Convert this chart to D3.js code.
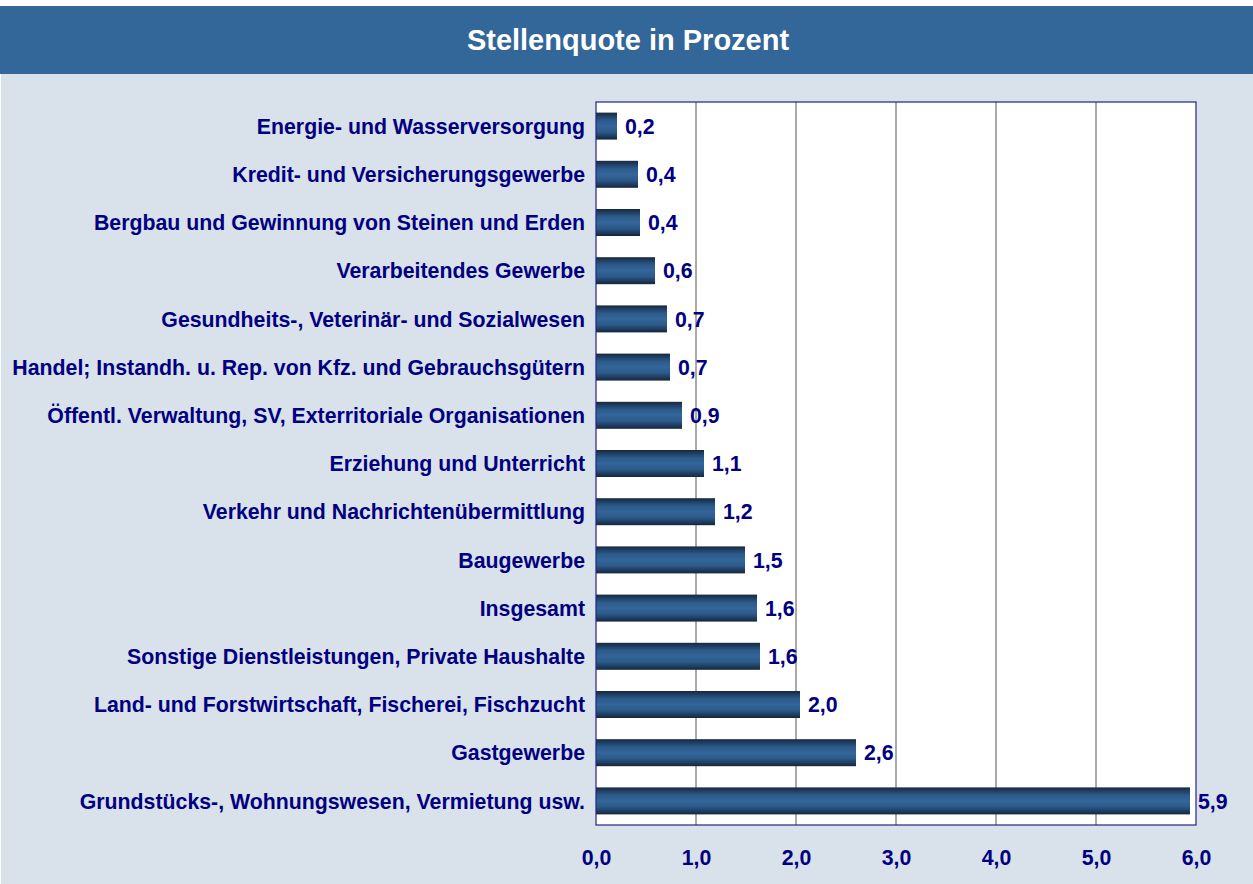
<!DOCTYPE html>
<html>
<head>
<meta charset="utf-8">
<script src="https://cdn.jsdelivr.net/npm/d3@7"></script>
<style>
  body { margin: 0; background: #fff; }
  svg { display: block; }
  text { font-family: "Liberation Sans", Arial, sans-serif; font-weight: bold; }
</style>
</head>
<body>
<div id="chart"></div>
<script>
const categories = [
  'Energie- und Wasserversorgung',
  'Kredit- und Versicherungsgewerbe',
  'Bergbau und Gewinnung von Steinen und Erden',
  'Verarbeitendes Gewerbe',
  'Gesundheits-, Veterinär- und Sozialwesen',
  'Handel; Instandh. u. Rep. von Kfz. und Gebrauchsgütern',
  'Öffentl. Verwaltung, SV, Exterritoriale Organisationen',
  'Erziehung und Unterricht',
  'Verkehr und Nachrichtenübermittlung',
  'Baugewerbe',
  'Insgesamt',
  'Sonstige Dienstleistungen, Private Haushalte',
  'Land- und Forstwirtschaft, Fischerei, Fischzucht',
  'Gastgewerbe',
  'Grundstücks-, Wohnungswesen, Vermietung usw.'
];
const values = [0.21, 0.42, 0.44, 0.59, 0.71, 0.74, 0.86, 1.08, 1.19, 1.49, 1.61, 1.64, 2.04, 2.6, 5.94];
const ticks = [0, 1, 2, 3, 4, 5, 6];
const title = 'Stellenquote in Prozent';

const W = 1253, H = 884;
const margin = { top: 102, right: 57, bottom: 59, left: 596 };
const fmt = v => d3.format('.1f')(v).replace('.', ',');
const fs = '21.3px';

const svg = d3.select('#chart').append('svg')
  .attr('width', W).attr('height', H);

// background + header
svg.append('rect').attr('x', 1).attr('y', 74).attr('width', W - 1).attr('height', H - 74).attr('fill', '#d9e1ea');
svg.append('rect').attr('x', 0).attr('y', 6).attr('width', W).attr('height', 68).attr('fill', '#336699');
svg.append('text')
  .attr('x', 628).attr('y', 50)
  .attr('text-anchor', 'middle')
  .attr('fill', '#fff')
  .style('font-size', '29px')
  .text(title);

const grad = svg.append('defs').append('linearGradient')
  .attr('id', 'barGrad').attr('x1', 0).attr('y1', 0).attr('x2', 0).attr('y2', 1);
grad.append('stop').attr('offset', '0%').attr('stop-color', '#162840');
grad.append('stop').attr('offset', '28%').attr('stop-color', '#2c5989');
grad.append('stop').attr('offset', '50%').attr('stop-color', '#33669b');
grad.append('stop').attr('offset', '72%').attr('stop-color', '#2c5989');
grad.append('stop').attr('offset', '100%').attr('stop-color', '#15263d');

const x = d3.scaleLinear().domain([0, 6]).range([margin.left, W - margin.right]);
const y = d3.scaleBand().domain(categories).range([margin.top, H - margin.bottom]).paddingInner(0.44).paddingOuter(0.22);

// plot area
svg.append('rect')
  .attr('x', x(0)).attr('y', margin.top)
  .attr('width', x(6) - x(0)).attr('height', H - margin.bottom - margin.top)
  .attr('fill', '#fff');

svg.append('g').selectAll('line')
  .data(ticks.slice(1, -1))
  .join('line')
  .attr('x1', d => x(d)).attr('x2', d => x(d))
  .attr('y1', margin.top).attr('y2', H - margin.bottom)
  .attr('stroke', '#555').attr('stroke-width', 1);

// bars
svg.append('g').selectAll('rect')
  .data(values)
  .join('rect')
  .attr('x', x(0))
  .attr('y', (d, i) => y(categories[i]))
  .attr('width', d => x(d) - x(0))
  .attr('height', y.bandwidth())
  .attr('fill', 'url(#barGrad)');

svg.append('rect')
  .attr('x', x(0)).attr('y', margin.top)
  .attr('width', x(6) - x(0)).attr('height', H - margin.bottom - margin.top)
  .attr('fill', 'none').attr('stroke', '#22228a').attr('stroke-width', 1.2);

// value labels
svg.append('g').selectAll('text')
  .data(values)
  .join('text')
  .attr('x', d => x(d) + 8)
  .attr('y', (d, i) => y(categories[i]) + y.bandwidth() / 2)
  .attr('dy', '0.36em')
  .attr('fill', '#000080')
  .style('font-size', fs)
  .text(fmt);

// category labels
svg.append('g').selectAll('text')
  .data(categories)
  .join('text')
  .attr('x', x(0) - 11)
  .attr('y', d => y(d) + y.bandwidth() / 2)
  .attr('dy', '0.36em')
  .attr('text-anchor', 'end')
  .attr('fill', '#000080')
  .style('font-size', fs)
  .text(d => d);

// x axis
const xAxis = svg.append('g')
  .attr('transform', `translate(0,${H - margin.bottom})`)
  .call(d3.axisBottom(x).tickValues(ticks).tickSize(0).tickPadding(25).tickFormat(fmt));
xAxis.select('.domain').remove();
xAxis.selectAll('text')
  .attr('fill', '#000080')
  .style('font-family', '"Liberation Sans", Arial, sans-serif')
  .style('font-weight', 'bold')
  .style('font-size', fs);
</script>
</body>
</html>
